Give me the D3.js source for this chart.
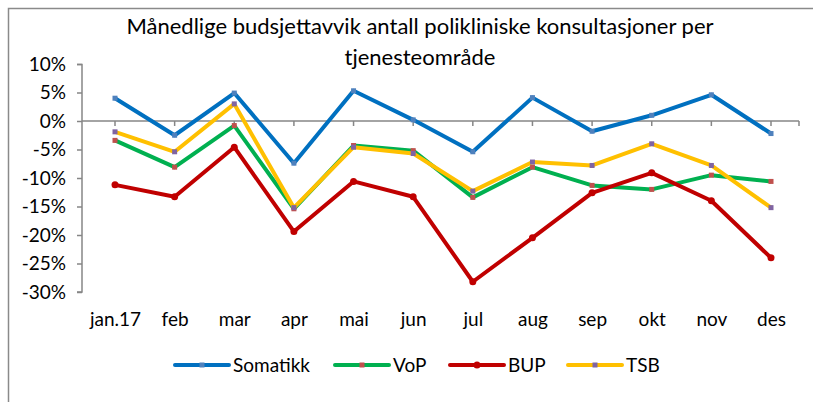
<!DOCTYPE html>
<html>
<meta charset="utf-8">
<style>
body { margin: 0; background: #fff; }
text { font-family: Lato, "Liberation Sans", Arial, sans-serif; fill: #000; }
</style>
<body>
<svg id="chart" width="813" height="402"></svg>
<script src="https://d3js.org/d3.v7.min.js"></script>
<script>

var months = ["jan.17", "feb", "mar", "apr", "mai", "jun", "jul", "aug", "sep", "okt", "nov", "des"];
var yTicks = [10, 5, 0, -5, -10, -15, -20, -25, -30];

var somatikk = [4.0, -2.5, 4.9, -7.4, 5.3, 0.2, -5.4, 4.1, -1.8, 1.0, 4.6, -2.2];
var vop      = [-3.4, -8.1, -0.8, -15.4, -4.3, -5.2, -13.4, -8.1, -11.3, -12.0, -9.5, -10.6];
var bup      = [-11.2, -13.3, -4.6, -19.4, -10.6, -13.3, -28.2, -20.5, -12.6, -9.1, -14.0, -24.0];
var tsb      = [-1.9, -5.4, 3.0, -15.2, -4.6, -5.7, -12.3, -7.2, -7.8, -4.0, -7.8, -15.2];

var series = [
  {name: "Somatikk", values: somatikk, color: "#0070C0", marker: "#4F81BD", size: 5, shape: "rect"},
  {name: "VoP", values: vop, color: "#00B050", marker: "#C0504D", size: 5, shape: "rect"},
  {name: "BUP", values: bup, color: "#C00000", marker: "#C00000", size: 7, shape: "circle"},
  {name: "TSB", values: tsb, color: "#FFC000", marker: "#8064A2", size: 5, shape: "rect"}
];

var svg = d3.select("#chart");

// frame (only left and top edges show in the crop)
svg.append("path")
    .attr("d", "M8.5,402V8.5H813")
    .attr("fill", "none")
    .attr("stroke", "#8a8a8a")
    .attr("stroke-width", 1.5);

// title
var title = svg.append("text")
    .attr("text-anchor", "middle")
    .style("font-size", "22px");
title.append("tspan").attr("x", 420).attr("y", 34).text("Månedlige budsjettavvik antall polikliniske konsultasjoner per");
title.append("tspan").attr("x", 420).attr("y", 65).text("tjenesteområde");

var x = d3.scalePoint()
    .domain(months)
    .range([115, 771]);

var y = d3.scaleLinear()
    .domain([-30, 10])
    .range([292, 64]);

// y axis
var yAxis = svg.append("g")
    .attr("transform", "translate(82,0)")
    .call(d3.axisLeft(y).tickValues(yTicks).tickSize(5).tickPadding(11).tickFormat(function(d) { return d + "%"; }));
yAxis.select(".domain").attr("stroke", "#868686").attr("stroke-width", 1.5).attr("d", "M-5,64.5H0V292H-5");
yAxis.selectAll(".tick line").attr("stroke", "#868686").attr("stroke-width", 1.5);
yAxis.selectAll(".tick text").style("font-size", "19px").style("font-family", "Lato, 'Liberation Sans', Arial, sans-serif");

// x axis line at 0% with ticks at each category
var x0 = svg.append("g").attr("transform", "translate(0," + y(0) + ")");
x0.append("line")
    .attr("x1", 82).attr("x2", 799)
    .attr("stroke", "#868686").attr("stroke-width", 1.5);
x0.selectAll(".tk")
    .data(months.concat(["end"]))
    .enter().append("line")
    .attr("x1", function(d) { return d === "end" ? 799 : x(d); })
    .attr("x2", function(d) { return d === "end" ? 799 : x(d); })
    .attr("y1", 0).attr("y2", 5)
    .attr("stroke", "#868686").attr("stroke-width", 1.5);

// category labels at the bottom
var xAxis = svg.append("g")
    .attr("transform", "translate(0,300)")
    .call(d3.axisBottom(x).tickSize(0).tickPadding(13));
xAxis.select(".domain").remove();
xAxis.selectAll(".tick text").style("font-size", "19px").style("font-family", "Lato, 'Liberation Sans', Arial, sans-serif");

// lines
var line = d3.line()
    .x(function(d, i) { return x(months[i]); })
    .y(function(d) { return y(d); });

var g = svg.selectAll(".serie")
    .data(series)
    .enter().append("g")
    .attr("class", "serie");

g.append("path")
    .attr("d", function(d) { return line(d.values); })
    .attr("fill", "none")
    .attr("stroke", function(d) { return d.color; })
    .attr("stroke-width", 4)
    .attr("stroke-linejoin", "round");

function marker(sel, s) {
  if (s.shape === "circle") {
    sel.append("circle").attr("r", s.size / 2).attr("fill", s.marker);
  } else {
    sel.append("rect")
        .attr("x", -s.size / 2).attr("y", -s.size / 2)
        .attr("width", s.size).attr("height", s.size)
        .attr("fill", s.marker);
  }
}

g.each(function(s) {
  d3.select(this).selectAll(".pt")
    .data(s.values)
    .enter().append("g")
    .attr("transform", function(d, i) { return "translate(" + x(months[i]) + "," + y(d) + ")"; })
    .each(function() { marker(d3.select(this), s); });
});

// legend
var legendX = [175, 335, 450, 568];
var legend = svg.selectAll(".legend")
    .data(series)
    .enter().append("g")
    .attr("transform", function(d, i) { return "translate(" + legendX[i] + ",365)"; });

legend.append("line")
    .attr("x1", 0).attr("x2", 54)
    .attr("stroke", function(d) { return d.color; })
    .attr("stroke-width", 4)
    .attr("stroke-linecap", "round");
legend.append("g")
    .attr("transform", "translate(27,0)")
    .each(function(d) { marker(d3.select(this), d); });
legend.append("text")
    .attr("x", 58)
    .attr("dy", "0.35em")
    .style("font-size", "19px")
    .text(function(d) { return d.name; });

</script>
</body>
</html>
